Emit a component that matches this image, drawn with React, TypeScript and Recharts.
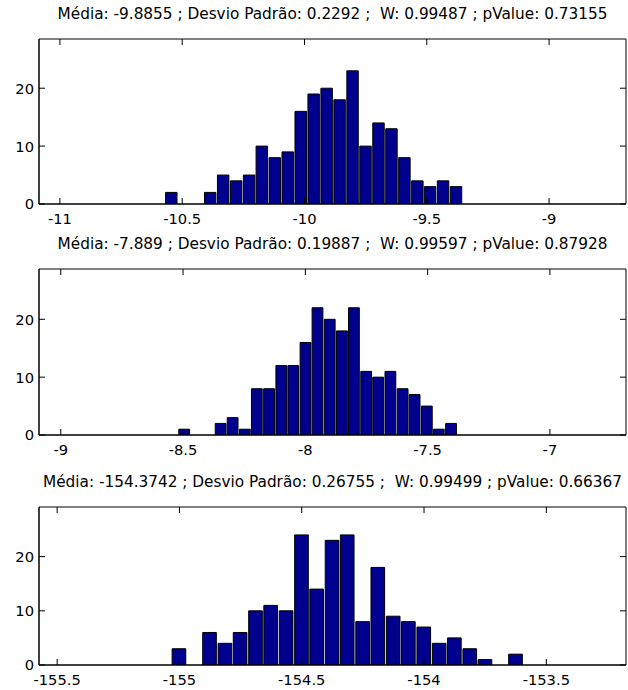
import { BarChart, Bar, XAxis, YAxis, ReferenceArea } from "recharts";

// bin centres and counts
const centers1 = [
  -10.546, -10.493, -10.44, -10.387, -10.334, -10.281, -10.228, -10.176, -10.123, -10.07, -10.017, -9.964,
  -9.911, -9.858, -9.805, -9.752, -9.699, -9.646, -9.593, -9.54, -9.488, -9.435, -9.382,
];
const counts1 = [2, 0, 0, 2, 5, 4, 5, 10, 8, 9, 16, 19, 20, 18, 23, 10, 14, 13, 8, 4, 3, 4, 3];

const centers2 = [
  -8.497, -8.448, -8.398, -8.348, -8.299, -8.249, -8.2, -8.15, -8.1, -8.051, -8.001, -7.952,
  -7.902, -7.852, -7.803, -7.753, -7.704, -7.654, -7.604, -7.555, -7.505, -7.456, -7.406,
];
const counts2 = [1, 0, 0, 2, 3, 1, 8, 8, 12, 12, 16, 22, 20, 18, 22, 11, 10, 11, 8, 7, 5, 1, 2];

const centers3 = [
  -155.003, -154.94, -154.878, -154.815, -154.753, -154.69, -154.628, -154.565, -154.502, -154.44, -154.377,
  -154.315, -154.252, -154.19, -154.127, -154.065, -154.002, -153.939, -153.877, -153.814, -153.752, -153.689,
  -153.627,
];
const counts3 = [3, 0, 6, 4, 6, 10, 11, 10, 24, 14, 23, 24, 8, 18, 9, 8, 7, 4, 5, 3, 1, 0, 2];

const means = [-9.8855, -7.889, -154.3742];

const titles = [
  "Média: -9.8855 ; Desvio Padrão: 0.2292 ;  W: 0.99487 ; pValue: 0.73155",
  "Média: -7.889 ; Desvio Padrão: 0.19887 ;  W: 0.99597 ; pValue: 0.87928",
  "Média: -154.3742 ; Desvio Padrão: 0.26755 ;  W: 0.99499 ; pValue: 0.66367",
];

const xTicks1 = [-11, -10.5, -10, -9.5, -9];
const xTicks2 = [-9, -8.5, -8, -7.5, -7];
const xTicks3 = [-155.5, -155, -154.5, -154, -153.5];
const yTicks = [0, 10, 20];
const yMaxes = [28.5, 28.7, 29.15];

const W = 628;
const LEFT = 39;
const RIGHT = 2;
const TOP = 39;
const BOTTOM = 26;
const PLOT_W = W - LEFT - RIGHT;
const HALF_RANGE = 1.2;
const TICK = 6;
const FONT = "DejaVu Sans";

const line = { stroke: "#000", strokeWidth: 1 };

interface HistProps {
  title: string;
  centers: number[];
  counts: number[];
  mean: number;
  xTicks: number[];
  yMax: number;
  top: number;
  plotH: number;
}

const Hist = ({ title, centers, counts, mean, xTicks, yMax, top, plotH }: HistProps) => {
  const data = centers.map((c, i) => ({ x: c, n: counts[i] }));
  const domain = [mean - HALF_RANGE, mean + HALF_RANGE];
  const binPx = ((centers[1] - centers[0]) / (2 * HALF_RANGE)) * PLOT_W;
  const H = TOP + plotH + BOTTOM;
  const plotTop = TOP;
  const plotBottom = TOP + plotH;
  const plotLeft = LEFT;
  const plotRight = W - RIGHT;

  const xTick = (p: any) => (
    <g>
      <line x1={p.x} x2={p.x} y1={plotBottom} y2={plotBottom - TICK} stroke="#000" />
      <line x1={p.x} x2={p.x} y1={plotTop} y2={plotTop + TICK} stroke="#000" />
      <text x={p.x} y={plotBottom + 20} textAnchor="middle" fontFamily={FONT} fontSize={14.7} fill="#000">
        {p.payload.value}
      </text>
    </g>
  );

  const yTick = (p: any) => (
    <g>
      <line x1={plotLeft} x2={plotLeft + TICK} y1={p.y} y2={p.y} stroke="#000" />
      <line x1={plotRight} x2={plotRight - TICK} y1={p.y} y2={p.y} stroke="#000" />
      <text x={plotLeft - 5} y={p.y + 5.4} textAnchor="end" fontFamily={FONT} fontSize={14.7} fill="#000">
        {p.payload.value}
      </text>
    </g>
  );

  return (
    <div style={{ position: "absolute", left: 0, top, width: W, height: H }}>
      <div
        style={{
          position: "absolute",
          left: LEFT,
          width: PLOT_W,
          top: TOP - 34,
          textAlign: "center",
          whiteSpace: "pre",
          fontFamily: FONT,
          fontSize: 15.3,
          lineHeight: "18px",
          color: "#000",
        }}
      >
        {title}
      </div>
      <BarChart
        width={W}
        height={H}
        data={data}
        margin={{ top: TOP, right: RIGHT, bottom: 0, left: 0 }}
        barCategoryGap={0}
      >
        <XAxis
          dataKey="x"
          type="number"
          domain={domain}
          ticks={xTicks}
          allowDataOverflow
          interval={0}
          height={BOTTOM}
          tickLine={false}
          axisLine={line}
          tick={xTick}
        />
        <YAxis
          type="number"
          domain={[0, yMax]}
          ticks={yTicks}
          allowDataOverflow
          interval={0}
          width={LEFT}
          tickLine={false}
          axisLine={line}
          tick={yTick}
        />
        <Bar
          dataKey="n"
          fill="#00008F"
          stroke="#000"
          strokeWidth={1}
          barSize={binPx}
          isAnimationActive={false}
        />
        <ReferenceArea
          x1={domain[0]}
          x2={domain[1]}
          y1={0}
          y2={yMax}
          fill="none"
          fillOpacity={0}
          stroke="#000"
          strokeWidth={1}
          ifOverflow="visible"
        />
      </BarChart>
    </div>
  );
};

const App = () => {
  return (
    <div style={{ position: "absolute", left: 0, top: 0, width: W, height: 690, background: "#fff", overflow: "hidden" }}>
      <Hist title={titles[0]} centers={centers1} counts={counts1} mean={means[0]} xTicks={xTicks1} yMax={yMaxes[0]} top={0} plotH={165} />
      <Hist title={titles[1]} centers={centers2} counts={counts2} mean={means[1]} xTicks={xTicks2} yMax={yMaxes[1]} top={230} plotH={166} />
      <Hist title={titles[2]} centers={centers3} counts={counts3} mean={means[2]} xTicks={xTicks3} yMax={yMaxes[2]} top={468} plotH={158} />
    </div>
  );
};

export default App;
